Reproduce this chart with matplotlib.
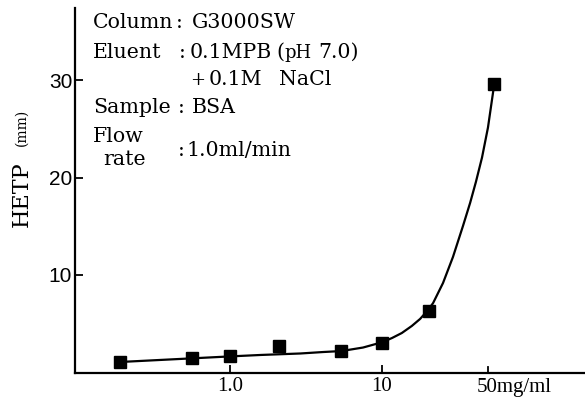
import numpy as np
import matplotlib.pyplot as plt
from matplotlib import transforms

# measured points (BSA on G3000SW)
conc = [0.19, 0.56, 1.0, 2.1, 5.4, 10.0, 20.4, 54.6]
hetp = [1.1, 1.5, 1.65, 2.7, 2.2, 3.05, 6.3, 29.6]

# hand drawn trend line
curve_x = [0.19, 0.56, 1.0, 1.6, 2.9, 4.1, 5.4, 7.5, 10, 11.65, 13.5, 15.7, 17.8, 20.1, 21.7,
           25.2, 29.3, 34.1, 38.0, 41.5, 45.5, 49.8, 54.6]
curve_y = [1.08, 1.45, 1.65, 1.8, 1.95, 2.1, 2.2, 2.56, 3.1, 3.54, 4.05, 4.77, 5.49, 6.41, 7.13,
           9.18, 11.85, 15.03, 17.4, 19.56, 22.05, 25.13, 29.44]

yticks = [10, 20, 30]
xticks = [1.0, 10]
xticklabels = ['1.0', '10']

W, H = 585, 405
fig = plt.figure(figsize=(W / 100, H / 100), dpi=100)
ax = fig.add_axes([75 / W, 1 - 372.5 / H, 1 - 75 / W, (372.5 - 8) / H])

serif = 'Liberation Serif'
wide = 'DejaVu Serif'

ax.plot(curve_x, curve_y, color='black', lw=1.6, zorder=2)
ax.plot(conc, hetp, 's', color='black', ms=8, zorder=3)

ax.set_xscale('log')
ax.set_xlim(10 ** ((75 - 230) / 152), 10 ** ((585 - 230) / 152))
ax.set_ylim(0, (372.5 - 8) / 9.75)

for s in ['top', 'right']:
    ax.spines[s].set_visible(False)
for s in ['left', 'bottom']:
    ax.spines[s].set_linewidth(1.6)

ax.set_yticks(yticks)
ax.set_yticklabels([str(t) for t in yticks], fontsize=15, family='Liberation Sans')
ax.set_xticks(xticks)
ax.set_xticklabels(xticklabels, fontsize=15, family=serif)
ax.xaxis.set_minor_locator(plt.NullLocator())
ax.tick_params(axis='both', direction='in', length=6, width=1.3, pad=3)
ax.tick_params(axis='y', pad=2)

# the last tick carries the unit
ax.plot([50, 50], [0, 0.6], color='black', lw=1.3, clip_on=False)
off = transforms.offset_copy(ax.get_xaxis_transform(), fig=fig, x=-8, y=-4, units='points')
ax.text(50, 0, '50mg/ml', transform=off, ha='left', va='top', fontsize=15, family=serif)

# y label
fig.text(22 / W, 1 - 194 / H, 'HETP', rotation=90, ha='center', va='center',
         fontsize=16, family=wide)
fig.text(22 / W, 1 - 127 / H, '(mm)', rotation=90, ha='center', va='center',
         fontsize=10, family=wide)

# conditions block
fs = 14.8
def put(x, y, s, size=fs):
    fig.text(x / W, 1 - y / H, s, ha='left', va='baseline', fontsize=size, family=wide)

put(93, 28, 'Column')
put(176, 28, ':')
put(192, 28, 'G3000SW')
put(93, 58, 'Eluent')
put(179, 58, ':')
put(190, 58, '0.1MPB')
put(276, 58, '(')
put(284, 58, 'pH', size=13)
put(318, 58, '7.0)')
put(190, 85, '+', size=13)
put(209, 85, '0.1M')
put(279, 85, 'NaCl')
put(93, 113, 'Sample')
put(178, 113, ':')
put(192, 113, 'BSA')
put(93, 142, 'Flow')
put(103, 165, 'rate')
put(178, 156, ':')
put(186, 156, '1.0ml/min')

fig.savefig('out.png', dpi=100)
